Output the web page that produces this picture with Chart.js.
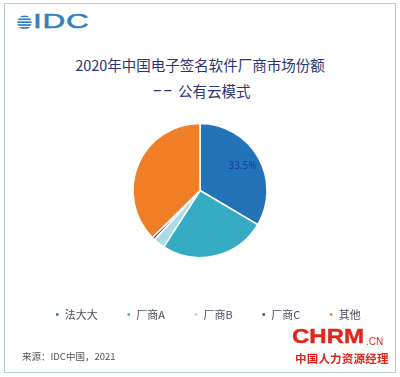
<!DOCTYPE html>
<html>
<head>
<meta charset="utf-8">
<script src="https://cdn.jsdelivr.net/npm/chart.js@4.4.1/dist/chart.umd.min.js"></script>
<style>
  html, body { margin: 0; padding: 0; background: #fff; }
  #wrap { position: relative; width: 400px; height: 377px; overflow: hidden; font-family: "Noto Sans CJK SC", "Noto Sans", sans-serif; }
  #frame { position: absolute; left: 4px; top: 3px; width: 390px; height: 368px; border: 1.5px solid #b9cbd6; }
  #chart { position: absolute; left: 0; top: 0; }
  .t { position: absolute; white-space: nowrap; }
  #idcIcon { position: absolute; left: 17px; top: 15px; }
  #idc { left: 33px; top: 9px; font-family: "Liberation Sans", Arial, sans-serif; font-size: 21px; color: #2f80bd; transform: scaleX(1.5); transform-origin: left top; letter-spacing: 0.5px; -webkit-text-stroke: 0.5px #2f80bd; }
  #title1 { left: 0; width: 400px; text-align: center; top: 54px; font-size: 14.5px; color: #2c3572; }
  #title2 { left: 153px; top: 79px; font-size: 14.5px; color: #2c3572; }
  #title2 .d { font-family: "Noto Sans", sans-serif; font-size: 17px; letter-spacing: 2px; margin-right: 4px; position: relative; top: -2px; }
  #src { left: 22px; top: 349px; font-size: 9.5px; color: #555; }
  #chrm { left: 292px; top: 325px; font-family: "Liberation Sans", Arial, sans-serif; font-weight: bold; font-size: 20px; color: #e1251b; transform: scaleX(1.2); transform-origin: left top; -webkit-text-stroke: 0.4px #e1251b; }
  #cn { left: 366px; top: 336px; font-family: "Liberation Sans", Arial, sans-serif; font-size: 10px; color: #e1251b; }
  #chrmZh { left: 295px; top: 350px; font-size: 11.5px; font-weight: bold; color: #e1251b; letter-spacing: 0.2px; }
</style>
</head>
<body>
<div id="wrap">
  <div id="frame"></div>
  <svg id="idcIcon" width="15" height="15" viewBox="0 0 15 15">
    <defs><clipPath id="g"><circle cx="7.5" cy="7.5" r="7.2"/></clipPath></defs>
    <g clip-path="url(#g)" fill="#2f80bd">
      <rect x="0" y="0.5" width="15" height="1.7"/>
      <rect x="0" y="3.4" width="15" height="1.7"/>
      <rect x="0" y="6.3" width="15" height="1.7"/>
      <rect x="0" y="9.2" width="15" height="1.7"/>
      <rect x="0" y="12.1" width="15" height="1.7"/>
    </g>
  </svg>
  <div class="t" id="idc">IDC</div>
  <div class="t" id="title1">2020年中国电子签名软件厂商市场份额</div>
  <div class="t" id="title2"><span class="d">––</span>公有云模式</div>
  <canvas id="chart" width="400" height="377"></canvas>
  <div class="t" id="src">来源：IDC中国，2021</div>
  <div class="t" id="chrm">CHRM</div>
  <div class="t" id="cn">.CN</div>
  <div class="t" id="chrmZh">中国人力资源经理</div>
</div>
<script>
var vendors = ["法大大", "厂商A", "厂商B", "厂商C", "其他"];
var shares = [33.5, 25.6, 2.8, 0.7, 37.4];
var shownLabels = ["33.5%", "", "", "", ""];
var colors = ["#2373b9", "#36acc4", "#aadce8", "#78326e", "#f07e26"];

// draws the single value label inside the first slice
var sliceLabel = {
    id: 'sliceLabel',
    afterDatasetsDraw: function (chart) {
        var ctx = chart.ctx;
        chart.getDatasetMeta(0).data.forEach(function (arc, i) {
            if (!shownLabels[i]) return;
            var p = arc.getProps(['x', 'y', 'startAngle', 'endAngle', 'outerRadius']);
            var mid = (p.startAngle + p.endAngle) / 2;
            var r = p.outerRadius * 0.73;
            ctx.save();
            ctx.fillStyle = '#1d3c98';
            ctx.font = '10px "Noto Sans", sans-serif';
            ctx.textAlign = 'center';
            ctx.textBaseline = 'middle';
            ctx.fillText(shownLabels[i], p.x + Math.cos(mid) * r, p.y + Math.sin(mid) * r);
            ctx.restore();
        });
    }
};

// legend in the picture sits a little right of centre
var legendShift = {
    id: 'legendShift',
    afterLayout: function (chart) {
        chart.legend.left += 8;
        chart.legend.right += 8;
    }
};

new Chart(document.getElementById("chart").getContext("2d"), {
    type: 'pie',
    data: {
        labels: vendors,
        datasets: [{
            data: shares,
            backgroundColor: colors,
            borderColor: '#ffffff',
            borderWidth: 1.5,
            radius: 67
        }]
    },
    options: {
        responsive: false,
        animation: false,
        layout: { padding: { top: 101, bottom: 47 } },
        plugins: {
            legend: {
                position: 'bottom',
                labels: {
                    boxWidth: 4,
                    boxHeight: 4,
                    padding: 29,
                    color: '#4a4f60',
                    font: { size: 11, family: '"Noto Sans CJK SC", sans-serif' }
                }
            },
            tooltip: { enabled: false }
        }
    },
    plugins: [sliceLabel, legendShift]
});
</script>
</body>
</html>
